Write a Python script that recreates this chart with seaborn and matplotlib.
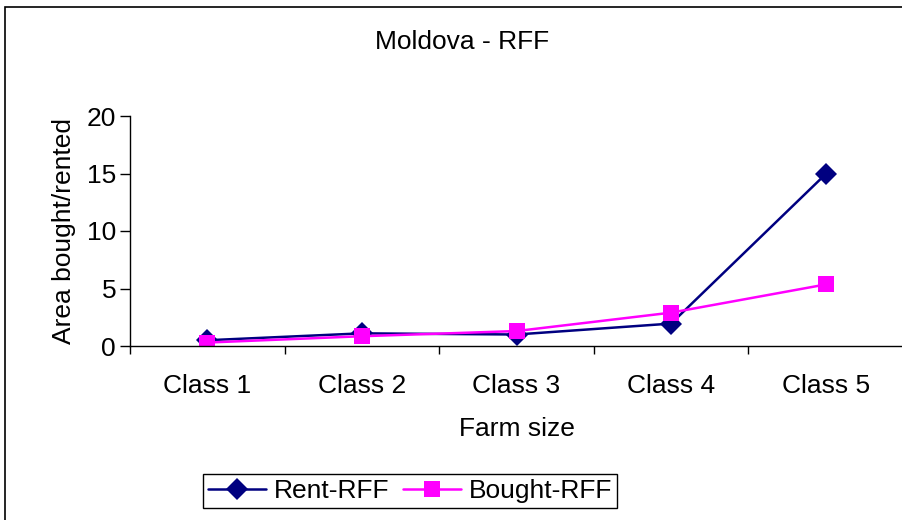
import matplotlib
matplotlib.use("Agg")
import matplotlib.pyplot as plt
import seaborn as sns
import pandas as pd
from matplotlib.patches import Rectangle
from matplotlib.ticker import FixedLocator

categories = ["Class 1", "Class 2", "Class 3", "Class 4", "Class 5"]
rent_rff = [0.5, 1.1, 1.0, 1.95, 14.95]
bought_rff = [0.3, 0.85, 1.3, 2.9, 5.35]
y_ticks = [0, 5, 10, 15, 20]

sns.set_theme(style="white")
plt.rcParams['font.family'] = ['Liberation Sans', 'DejaVu Sans']
plt.rcParams['text.color'] = 'black'
plt.rcParams['axes.labelcolor'] = 'black'
plt.rcParams['xtick.color'] = 'black'
plt.rcParams['ytick.color'] = 'black'
FS = 19

df = pd.DataFrame({
    "pos": list(range(len(categories))) * 2,
    "value": rent_rff + bought_rff,
    "series": ["Rent-RFF"] * len(categories) + ["Bought-RFF"] * len(categories),
})

fig = plt.figure(figsize=(9.03, 5.20), dpi=100)
ax = fig.add_axes([130/903, 1-346/520, 773/903, 230/520])

sns.lineplot(data=df, x="pos", y="value", hue="series", style="series",
             palette={"Rent-RFF": "#000080", "Bought-RFF": "#FF00FF"},
             markers={"Rent-RFF": "D", "Bought-RFF": "s"},
             dashes=False, markersize=11, linewidth=1.8, markeredgewidth=0,
             sort=False, ax=ax, legend=True)

ax.set_xlim(-0.5, len(categories) - 0.5)
ax.set_ylim(0, 20)
ax.set_yticks(y_ticks)
ax.set_xticks(range(len(categories)))
ax.set_xticklabels(categories, fontsize=FS)
ax.tick_params(axis='y', labelsize=FS, left=True, length=7, width=1, color='black', pad=3)
ax.tick_params(axis='x', which='major', bottom=False, pad=14)
ax.xaxis.set_minor_locator(FixedLocator([i - 0.5 for i in range(len(categories) + 1)]))
ax.tick_params(axis='x', which='minor', bottom=True, length=6, width=1, color='black')
for s in ["top", "right"]:
    ax.spines[s].set_visible(False)
for s in ["left", "bottom"]:
    ax.spines[s].set_color("black")
    ax.spines[s].set_linewidth(1)
ax.set_xlabel("Farm size", fontsize=FS, labelpad=14)
ax.set_ylabel("Area bought/rented", fontsize=FS, labelpad=8)

h, l = ax.get_legend_handles_labels()
ax.legend(h, l, loc="center", bbox_to_anchor=(410/903, 1-491/520),
          bbox_transform=fig.transFigure, ncol=2, fontsize=FS, frameon=True,
          fancybox=False, edgecolor="black", framealpha=1, borderpad=0.2,
          handlelength=2.2, columnspacing=0.5, handletextpad=0.3,
          labelcolor="black")
ax.get_legend().get_frame().set_linewidth(1)

fig.text(462/903, 1-42/520, "Moldova - RFF", ha="center", va="center", fontsize=FS,
         color="black")

fig.patches.append(Rectangle((5/903, -0.1), 1.2, 1.1 - 7/520, transform=fig.transFigure,
                             fill=False, edgecolor="black", linewidth=1.2))

fig.savefig("out.png", dpi=100)
